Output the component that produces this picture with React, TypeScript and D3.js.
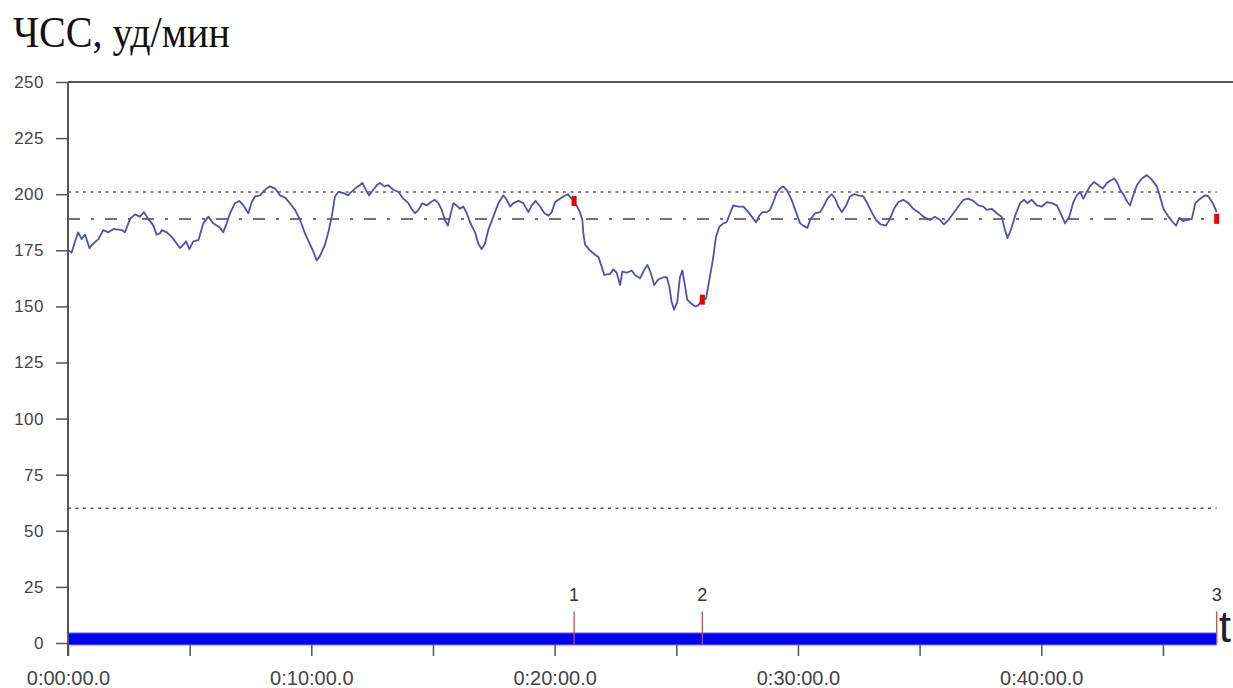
import React, { useRef, useLayoutEffect } from 'react';
import * as d3 from 'd3';

// heart rate trace: time in minutes, value in beats per minute
const timeMin = [
  0.0, 0.15, 0.29, 0.42, 0.56, 0.7, 0.88, 1.04, 1.25, 1.45, 1.66, 1.86, 2.21, 2.34, 2.55, 2.75, 2.96, 3.12, 3.3, 3.51,
  3.64, 3.78, 3.85, 4.06, 4.26, 4.4, 4.6, 4.74, 4.85, 4.99, 5.15, 5.36, 5.56, 5.77, 5.97, 6.11, 6.25, 6.38, 6.52, 6.66,
  6.86, 7.04, 7.21, 7.41, 7.55, 7.69, 7.89, 8.1, 8.3, 8.51, 8.71, 8.92, 9.12, 9.33, 9.54, 9.74, 9.95, 10.08, 10.22, 10.36,
  10.56, 10.7, 10.84, 10.97, 11.11, 11.32, 11.52, 11.59, 11.8, 11.93, 12.1, 12.24, 12.37, 12.55, 12.69, 12.82, 13.0, 13.16,
  13.37, 13.58, 13.78, 13.99, 14.12, 14.26, 14.4, 14.56, 14.74, 14.92, 15.08, 15.22, 15.36, 15.49, 15.61, 15.7, 15.84,
  15.97, 16.11, 16.25, 16.39, 16.52, 16.73, 16.86, 17.0, 17.14, 17.27, 17.48, 17.69, 17.89, 18.03, 18.17, 18.3, 18.51,
  18.71, 18.92, 19.06, 19.22, 19.4, 19.58, 19.74, 19.88, 20.02, 20.22, 20.36, 20.54, 20.7, 20.9, 21.04, 21.14, 21.18,
  21.25, 21.45, 21.66, 21.8, 21.94, 22.04, 22.28, 22.41, 22.55, 22.69, 22.78, 22.96, 23.17, 23.3, 23.51, 23.67, 23.81,
  23.95, 24.09, 24.26, 24.47, 24.61, 24.71, 24.81, 24.91, 25.04, 25.15, 25.25, 25.36, 25.45, 25.59, 25.77, 25.91, 26.05,
  26.22, 26.36, 26.5, 26.63, 26.77, 26.93, 27.07, 27.21, 27.34, 27.55, 27.76, 27.96, 28.17, 28.28, 28.41, 28.55, 28.71,
  28.85, 28.99, 29.12, 29.26, 29.4, 29.56, 29.74, 29.92, 30.09, 30.22, 30.39, 30.5, 30.7, 30.91, 31.05, 31.21, 31.39,
  31.53, 31.66, 31.8, 31.98, 32.14, 32.31, 32.48, 32.69, 32.85, 33.03, 33.21, 33.4, 33.62, 33.78, 33.95, 34.13, 34.33,
  34.54, 34.74, 34.95, 35.15, 35.43, 35.63, 35.84, 36.0, 36.18, 36.39, 36.59, 36.8, 37.0, 37.21, 37.41, 37.62, 37.76,
  37.96, 38.17, 38.37, 38.51, 38.61, 38.75, 38.93, 39.13, 39.3, 39.43, 39.61, 39.82, 40.02, 40.23, 40.43, 40.64, 40.84,
  40.98, 41.15, 41.32, 41.46, 41.59, 41.73, 41.87, 42.0, 42.17, 42.35, 42.53, 42.7, 42.83, 43.0, 43.13, 43.24, 43.4,
  43.54, 43.65, 43.76, 43.93, 44.13, 44.34, 44.54, 44.75, 44.88, 45.02, 45.23, 45.41, 45.54, 45.68, 45.82, 45.98, 46.19,
  46.33, 46.53, 46.74, 46.87, 47.05, 47.21,
];

const hrBpm = [
  175, 174, 179, 183, 180, 182, 176, 178, 180, 184, 183, 184.5, 184, 183, 189, 191, 190, 192, 189, 186,
  182, 182.5, 184, 183, 181, 179, 176, 177.5, 179, 175.5, 179, 179.5, 187, 190, 187, 186, 185, 183, 187, 191.5,
  196, 197, 195, 191.5, 196.5, 199, 199.5, 202, 203.5, 202.5, 199.5, 198.5, 196, 193, 188.5, 182.5, 177.5, 174.5, 170.5, 172.5,
  177.5, 183, 190, 199, 201, 200.5, 199.5, 200.5, 202.5, 203.5, 205, 202, 199.5, 202, 204, 205, 203.5, 204,
  202, 201, 198, 196, 193.5, 191.5, 193, 196, 195, 196.5, 197.5, 196, 193, 188.5, 186, 190, 196,
  195, 193.5, 194.5, 191.5, 187.5, 183, 178, 175.5, 178, 184, 190, 196, 199.5, 197.5, 194.5, 196, 197,
  196, 192, 195, 197, 194.5, 191.5, 190.5, 192, 196.5, 198, 199, 200, 198, 195, 192, 188.5, 182.5,
  177.5, 175, 173, 172, 167.5, 164, 164.5, 166.5, 165, 159.5, 165.5, 165, 166, 164, 162.5, 166, 168.5,
  165, 159.5, 162, 163, 163, 159, 152, 148.5, 152, 163, 166, 159, 153, 151.5, 150, 150.5, 153,
  153.5, 162, 170.5, 181, 185.5, 187, 187.5, 191.5, 195, 194.5, 194.5, 192, 189, 187.5, 190.5, 192, 192,
  193, 196.5, 200.5, 202.5, 203.5, 201.5, 197.5, 192, 187, 186, 185, 188.5, 191.5, 192, 194.5, 198, 200,
  198, 194.5, 192, 195, 199, 200, 199.5, 199, 196, 192, 188.5, 186.5, 186, 189, 193.5, 196.5, 197.5,
  196, 193.5, 192, 190, 188.5, 190, 188.5, 186.5, 188.5, 191.5, 194.5, 197.5, 198, 197, 195, 194.5, 193,
  193.5, 191.5, 190, 184, 180.5, 184, 190.5, 196, 197.5, 196, 197.5, 195, 194.5, 196.5, 196, 195, 190.5,
  187, 190, 196.5, 199.5, 201, 198, 201, 203.5, 205.5, 204, 202.5, 205, 206, 207, 205, 202, 199.5,
  196.5, 195, 199, 204, 207, 208.5, 206.5, 203.5, 199, 193.5, 190, 187.5, 186, 189.5, 188, 188.5, 189,
  196, 198, 199.5, 199, 196, 192,
];

// numbered event markers
const markerLabels = ['1', '2', '3'];
const markerTime = [20.8, 26.07, 47.21];
const markerBpm = [197, 153, 189];

// horizontal reference levels
const upperLimit = 201;
const meanLevel = 189;
const lowerLimit = 60;

const yTicks = [0, 25, 50, 75, 100, 125, 150, 175, 200, 225, 250];
const xTicks = [0, 5, 10, 15, 20, 25, 30, 35, 40, 45];
const xLabelTicks = [0, 10, 20, 30, 40];

const timeEnd = 47.21;
const barTop = 4.5;

const fmtTime = (m: number) => {
  const h = Math.floor(m / 60);
  const mm = Math.floor(m % 60);
  return `${h}:${String(mm).padStart(2, '0')}:00.0`;
};

const HeartRateChart: React.FC = () => {
  const ref = useRef<SVGSVGElement>(null);

  useLayoutEffect(() => {
    const svg = d3.select(ref.current);
    svg.selectAll('*').remove();

    const x = d3.scaleLinear().domain([0, 47.88]).range([68, 1233]);
    const y = d3.scaleLinear().domain([0, 250]).range([643, 82]);

    // title
    svg
      .append('text')
      .attr('x', 13)
      .attr('y', 47)
      .attr('font-family', '"Liberation Serif", "Times New Roman", serif')
      .attr('font-size', 44)
      .attr('textLength', 217)
      .attr('lengthAdjust', 'spacingAndGlyphs')
      .attr('fill', '#111')
      .text('ЧСС, уд/мин');

    // reference lines
    const refs = [
      { v: upperLimit, color: '#8a5050', dash: '3,4.5', w: 1.5 },
      { v: meanLevel, color: '#7b6b8f', dash: '12,11,3,11', w: 2 },
      { v: lowerLimit, color: '#8a4848', dash: '3,4.5', w: 1.5 },
    ];
    svg
      .append('g')
      .selectAll('line')
      .data(refs)
      .enter()
      .append('line')
      .attr('x1', x(0))
      .attr('x2', x(timeEnd))
      .attr('y1', (d) => y(d.v))
      .attr('y2', (d) => y(d.v))
      .attr('stroke', (d) => d.color)
      .attr('stroke-width', (d) => d.w)
      .attr('stroke-dasharray', (d) => d.dash);

    // heart rate line
    const pts = timeMin.map((t, i) => [t, hrBpm[i]] as [number, number]);
    const line = d3
      .line<[number, number]>()
      .x((d) => x(d[0]))
      .y((d) => y(d[1]));
    svg
      .append('path')
      .attr('d', line(pts))
      .attr('fill', 'none')
      .attr('stroke', '#5050b4')
      .attr('stroke-width', 1.8)
      .attr('stroke-linejoin', 'round');

    // time bar
    svg
      .append('rect')
      .attr('x', x(0))
      .attr('y', y(barTop))
      .attr('width', x(timeEnd) - x(0))
      .attr('height', y(0) - y(barTop) + 2)
      .attr('fill', '#0000ee')
      .attr('stroke', '#8080ff')
      .attr('stroke-width', 1);

    // markers
    const markers = markerLabels.map((l, i) => ({ l, t: markerTime[i], v: markerBpm[i] }));
    const mg = svg.append('g');
    mg.selectAll('line')
      .data(markers)
      .enter()
      .append('line')
      .attr('x1', (d) => x(d.t))
      .attr('x2', (d) => x(d.t))
      .attr('y1', y(0) + 1)
      .attr('y2', y(14))
      .attr('stroke', '#d04848')
      .attr('stroke-width', 1.3);
    mg.selectAll('text')
      .data(markers)
      .enter()
      .append('text')
      .attr('x', (d) => x(d.t))
      .attr('y', y(18.5))
      .attr('text-anchor', 'middle')
      .attr('font-family', '"Liberation Sans", Arial, sans-serif')
      .attr('font-size', 18)
      .attr('fill', '#333')
      .text((d) => d.l);
    mg.selectAll('rect')
      .data(markers)
      .enter()
      .append('rect')
      .attr('x', (d) => x(d.t) - 2.5)
      .attr('y', (d) => y(d.v) - 5)
      .attr('width', 5)
      .attr('height', 10)
      .attr('fill', '#ee0000');

    // axes
    const yAxis = d3.axisLeft(y).tickValues(yTicks).tickSize(12).tickPadding(12);
    const gy = svg.append('g').attr('transform', `translate(${x(0)},0)`).call(yAxis);
    gy.select('.domain').remove();
    gy.selectAll('line').attr('stroke', '#555').attr('stroke-width', 1.5);
    gy.selectAll('text')
      .attr('font-family', '"Liberation Sans", Arial, sans-serif')
      .attr('font-size', 17)
      .attr('letter-spacing', 0.5)
      .attr('fill', '#444');

    const xAxis = d3
      .axisBottom(x)
      .tickValues(xTicks)
      .tickSize(12)
      .tickPadding(15)
      .tickFormat((d) => (xLabelTicks.includes(d as number) ? fmtTime(d as number) : ''));
    const gx = svg.append('g').attr('transform', `translate(0,${y(0) + 1})`).call(xAxis);
    gx.select('.domain').remove();
    gx.selectAll('line').attr('stroke', '#555').attr('stroke-width', 1.5);
    gx.selectAll('text')
      .attr('font-family', '"Liberation Sans", Arial, sans-serif')
      .attr('font-size', 20)
      .attr('fill', '#444');

    // frame: left axis and top line
    svg
      .append('line')
      .attr('x1', x(0))
      .attr('x2', x(0))
      .attr('y1', y(250))
      .attr('y2', y(0) + 13)
      .attr('stroke', '#555')
      .attr('stroke-width', 2);
    svg
      .append('line')
      .attr('x1', x(0))
      .attr('x2', 1233)
      .attr('y1', y(250))
      .attr('y2', y(250))
      .attr('stroke', '#555')
      .attr('stroke-width', 2);

    // time axis label
    svg
      .append('text')
      .attr('x', x(timeEnd) + 2)
      .attr('y', y(0) - 1)
      .attr('font-family', '"Liberation Sans", Arial, sans-serif')
      .attr('font-size', 44)
      .attr('fill', '#222')
      .text('t');
  }, []);

  return (
    <svg
      ref={ref}
      width={1233}
      height={688}
      style={{ position: 'absolute', left: 0, top: 0, background: '#fff' }}
    />
  );
};

export default function App() {
  return <HeartRateChart />;
}
